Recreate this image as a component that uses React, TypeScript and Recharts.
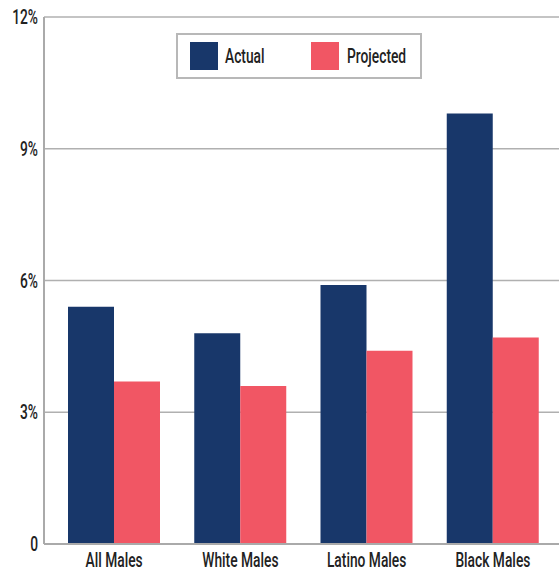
import { BarChart, Bar, XAxis, YAxis, CartesianGrid } from 'recharts';

const categories = ['All Males', 'White Males', 'Latino Males', 'Black Males'];
const actual = [5.4, 4.8, 5.9, 9.8];
const projected = [3.7, 3.6, 4.4, 4.7];
const yTicks = [0, 3, 6, 9, 12];
const seriesNames = ['Actual', 'Projected'];

const NAVY = '#18376a';
const RED = '#f15664';
const FONT = "Roboto, 'DejaVu Sans', sans-serif";
const SQUEEZE = 0.69;

const data = categories.map((name, i) => ({ name, actual: actual[i], projected: projected[i] }));

const fmtY = (v: number) => (v === 0 ? '0' : `${v}%`);

const XTick = (props: any) => {
  const { x, y, payload } = props;
  return (
    <text
      transform={`translate(${x},${y}) scale(${SQUEEZE},1)`}
      dy={15}
      textAnchor="middle"
      fontFamily={FONT}
      fontWeight={500}
      fontSize={20}
      fill="#222"
    >
      {payload.value}
    </text>
  );
};

const YTick = (props: any) => {
  const { x, y, payload } = props;
  return (
    <text
      transform={`translate(${x},${y}) scale(${SQUEEZE},1)`}
      dy={7}
      textAnchor="end"
      fontFamily={FONT}
      fontWeight={500}
      fontSize={20}
      fill="#222"
    >
      {fmtY(payload.value)}
    </text>
  );
};

// legend drawn as an overlay so it does not shrink the plot
const LegendBox = () => (
  <svg width={248} height={48} style={{ position: 'absolute', left: 175, top: 32 }}>
    <rect x={2} y={2} width={244} height={44} fill="#fff" stroke="#b8b8b8" strokeWidth={2} />
    <rect x={15} y={10} width={28} height={28} fill={NAVY} />
    <text
      transform={`translate(50,31) scale(${SQUEEZE},1)`}
      fontFamily={FONT}
      fontWeight={500}
      fontSize={20}
      fill="#222"
    >
      {seriesNames[0]}
    </text>
    <rect x={136} y={10} width={28} height={28} fill={RED} />
    <text
      transform={`translate(172,31) scale(${SQUEEZE},1)`}
      fontFamily={FONT}
      fontWeight={500}
      fontSize={20}
      fill="#222"
    >
      {seriesNames[1]}
    </text>
  </svg>
);

export default function App() {
  return (
    <div style={{ position: 'absolute', left: 0, top: 0, width: 559, height: 569, background: '#fff' }}>
      <BarChart
        width={559}
        height={569}
        data={data}
        margin={{ top: 17, right: 0, left: 0, bottom: 0 }}
        barCategoryGap={17}
        barGap={0}
      >
        <CartesianGrid vertical={false} stroke="#b0b0b0" strokeWidth={1.5} />
        <XAxis
          dataKey="name"
          height={25}
          padding={{ left: 7, right: 3 }}
          tickLine={false}
          axisLine={{ stroke: '#aaa', strokeWidth: 2 }}
          tick={<XTick />}
          interval={0}
        />
        <YAxis
          width={44}
          domain={[0, 12]}
          ticks={yTicks}
          tickLine={false}
          axisLine={{ stroke: '#aaa', strokeWidth: 2 }}
          tick={<YTick />}
          tickMargin={0}
        />
        <Bar dataKey="actual" name={seriesNames[0]} fill={NAVY} isAnimationActive={false} />
        <Bar dataKey="projected" name={seriesNames[1]} fill={RED} isAnimationActive={false} />
      </BarChart>
      <LegendBox />
    </div>
  );
}
